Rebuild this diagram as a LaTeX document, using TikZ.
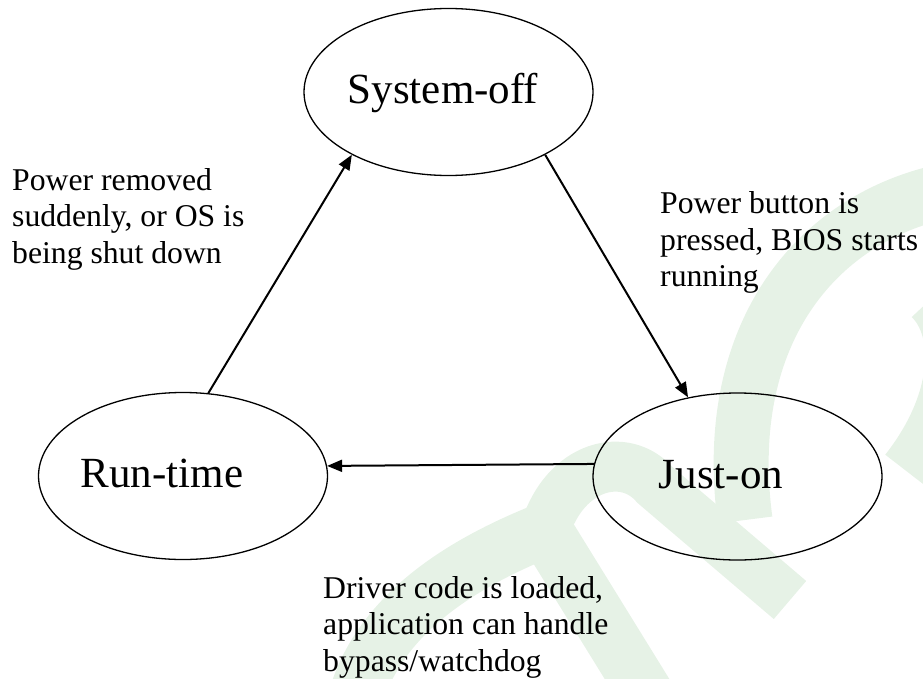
\documentclass[tikz,border=0pt]{standalone}
\usepackage{fontspec}
\setmainfont{Liberation Serif}
\usetikzlibrary{shapes.geometric,arrows.meta}
\definecolor{wm}{RGB}{230,242,230}
\tikzset{
  statebox/.style={draw=black, line width=1.3pt, ellipse, minimum width=289pt, minimum height=167pt, inner sep=0pt},
  statetext/.style={anchor=base, inner sep=0pt, font=\fontsize{43}{50}\selectfont},
  edgelabel/.style={anchor=base west, inner sep=0pt, align=left, font=\fontsize{31.7}{36.4}\selectfont},
  trans/.style={line width=2pt, -{Triangle[length=15pt,width=12pt]}},
  wmstroke/.style={draw=wm, line cap=butt, line join=round}
}
\begin{document}
\begin{tikzpicture}[x=1pt, y=-1pt]
\useasboundingbox (0,0) rectangle (923,679);
% faint watermark
\begin{scope}
\clip (0,0) rectangle (923,679);
\draw[wmstroke, line width=55pt] (355,700) .. controls (380,610) and (470,560) .. (545,530) -- (650,700);
\draw[wmstroke, line width=50pt] (545,530) .. controls (565,465) and (625,450) .. (655,485) -- (790,600);
\draw[wmstroke, line width=55pt] (745,520) .. controls (720,330) and (820,215) .. (950,190);
\draw[wmstroke, line width=50pt] (905,470) .. controls (960,400) and (960,330) .. (930,300);
\end{scope}
% states
\node[statebox] (so) at (448.5,92) {};
\node[statebox] (rt) at (183,476) {};
\node[statebox] (jo) at (737.5,476.5) {};
\node[statetext] (sot) at (443,104) {System-off};
\node[statetext] (rtt) at (162,487) {Run-time};
\node[statetext] (jot) at (721,488) {Just-on};
% transitions
\draw[trans] (rt.73) -- (so.213);
\draw[trans] (so.327) -- (jo.122);
\draw[trans] (jo.175.4) -- (rt.4.4);
% labels (anchored at the baseline of the last line)
\node[edgelabel] (l1) at (12,263) {Power removed\\suddenly, or OS is\\being shut down};
\node[edgelabel] (l2) at (660,286.5) {Power button is\\pressed, BIOS starts\\running};
\node[edgelabel] (l3) at (323,671) {Driver code is loaded,\\application can handle\\bypass/watchdog};
\end{tikzpicture}
\end{document}
